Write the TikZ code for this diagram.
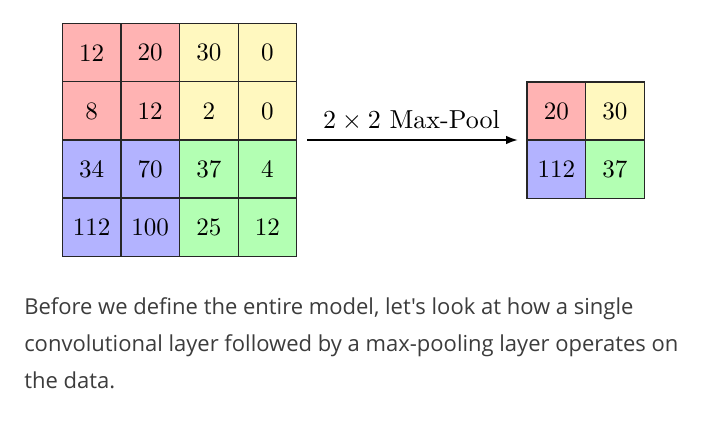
\documentclass[tikz,border=0pt]{standalone}
\usepackage{fontspec}
\newfontfamily\parafont{Open Sans}
\newfontfamily\lmten{lmroman10-regular}[Extension=.otf]
\usetikzlibrary{arrows.meta}
\definecolor{cred}{RGB}{255,179,179}
\definecolor{cyellow}{RGB}{255,248,191}
\definecolor{cblue}{RGB}{179,179,255}
\definecolor{cgreen}{RGB}{179,255,179}
\definecolor{ptext}{RGB}{60,60,60}
\begin{document}
\begin{tikzpicture}[x=0.75pt,y=-0.75pt,
  cell/.style={draw=black!85,line width=0.9pt,minimum width=58.6*0.75pt,minimum height=58.2*0.75pt,inner sep=0pt,outer sep=0pt,font=\lmten\fontsize{18.8}{22}\selectfont},
  para/.style={anchor=base west,inner sep=0pt,text=ptext,font=\parafont\fontsize{16.5}{20}\selectfont}]
\useasboundingbox (0,0) rectangle (720,424);
\fill[white] (0,0) rectangle (720,424);
% left grid
\def\cw{58.6}
\def\ch{58.1}
\foreach \r/\row in {0/{12/cred,20/cred,30/cyellow,0/cyellow},
                     1/{8/cred,12/cred,2/cyellow,0/cyellow},
                     2/{34/cblue,70/cblue,37/cgreen,4/cgreen},
                     3/{112/cblue,100/cblue,25/cgreen,12/cgreen}}{
  \foreach \v/\c [count=\i from 0] in \row {
    \node[cell,fill=\c] (L\r\i) at ({62.3+\cw*(\i+0.5)},{23.8+\ch*(\r+0.5)}) {\v};
  }
}
% right grid
\node[cell,fill=cred]    (R00) at ({527+\cw*0.5},{82+\ch*0.5}) {20};
\node[cell,fill=cyellow] (R01) at ({527+\cw*1.5},{82+\ch*0.5}) {30};
\node[cell,fill=cblue]   (R10) at ({527+\cw*0.5},{82+\ch*1.5}) {112};
\node[cell,fill=cgreen]  (R11) at ({527+\cw*1.5},{82+\ch*1.5}) {37};
% arrow
\coordinate (as) at (307,140);
\coordinate (ae) at (518,140);
\draw[line width=1.5pt,-{Latex[length=9pt,width=6.5pt]}] (as) -- (ae);
\node[anchor=base,inner sep=0pt,font=\lmten\fontsize{19.5}{23}\selectfont] (lab) at (411.5,128) {2\kern0.222em×\kern0.222em2 Max-Pool};
% paragraph
\node[para] (p1) at (24,314) {Before we define the entire model, let's look at how a single};
\node[para] (p2) at (24,351) {convolutional layer followed by a max-pooling layer operates on};
\node[para] (p3) at (24,388) {the data.};
\end{tikzpicture}
\end{document}
